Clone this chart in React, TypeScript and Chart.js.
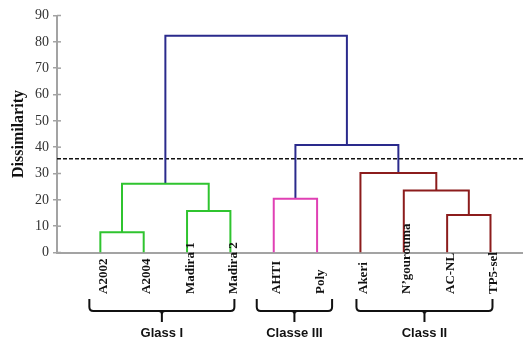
import React, { useEffect, useRef } from "react";
import { Chart, registerables } from "chart.js";

Chart.register(...registerables);

// Leaves of the dendrogram, left to right
const leaves = ["A2002", "A2004", "Madira 1", "Madira 2", "AHTI", "Poly", "Akeri", "N’gourouma", "AC-NL", "TP5-sel"];

// Agglomeration steps: node ids 0..9 are leaves, each merge creates node 10, 11, ...
const mergeLeft = [0, 2, 10, 4, 8, 7, 6, 13, 12];
const mergeRight = [1, 3, 11, 5, 9, 14, 15, 16, 17];
const mergeHeight = [7.7, 15.8, 26.1, 20.4, 14.2, 23.5, 30.2, 40.8, 82.3];
const mergeGroup = ["I", "I", "I", "III", "II", "II", "II", "root", "root"];

// Truncation level
const cutoff = 35.6;

// Y axis
const yMin = 0;
const yMax = 90;
const yStep = 10;
const yTitle = "Dissimilarity";

// Class brackets under the leaves
const groupLabels = ["Glass I", "Classe III", "Class II"];
const groupFirst = [0, 4, 6];
const groupLast = [3, 5, 9];

const groupColors: Record<string, string> = {
  I: "#2fc42f",
  III: "#e040b4",
  II: "#8c1c1c",
  root: "#2a2a8c",
};

const SERIF = '"Liberation Serif", "Times New Roman", serif';
const SANS = '"Liberation Sans", Arial, sans-serif';
const AXIS_GREY = "#a3a3a3";
const X_MAX = 10.75;

function buildTree() {
  const nx: number[] = leaves.map((_, i) => i + 1);
  const ny: number[] = leaves.map(() => 0);
  const links: { pts: { x: number; y: number }[]; color: string }[] = [];
  mergeLeft.forEach((l, k) => {
    const r = mergeRight[k];
    const h = mergeHeight[k];
    links.push({
      pts: [
        { x: nx[l], y: ny[l] },
        { x: nx[l], y: h },
        { x: nx[r], y: h },
        { x: nx[r], y: ny[r] },
      ],
      color: groupColors[mergeGroup[k]],
    });
    nx.push((nx[l] + nx[r]) / 2);
    ny.push(h);
  });
  return links;
}

// Bracket overhang (px) on each side of every class
const bracketPad = [
  [11, 4],
  [17, 15],
  [4, 2],
];

const annotations = {
  id: "dendroAnnotations",
  afterDraw(chart: any) {
    const { ctx, chartArea, scales } = chart;
    const xs = scales.x;
    const ys = scales.y;
    ctx.save();

    // inner halves of the y tick marks
    ctx.strokeStyle = AXIS_GREY;
    ctx.lineWidth = 1.5;
    for (let v = yMin; v <= yMax; v += yStep) {
      const py = ys.getPixelForValue(v);
      ctx.beginPath();
      ctx.moveTo(chartArea.left, py);
      ctx.lineTo(chartArea.left + 4, py);
      ctx.stroke();
    }

    // y axis title
    ctx.save();
    ctx.translate(19, (ys.getPixelForValue(yMin) + ys.getPixelForValue(yMax)) / 2);
    ctx.rotate(-Math.PI / 2);
    ctx.fillStyle = "#111";
    ctx.font = `bold 16px ${SERIF}`;
    ctx.textAlign = "center";
    ctx.textBaseline = "middle";
    ctx.fillText(yTitle, 0, 0);
    ctx.restore();

    // leaf labels, reading upward
    ctx.fillStyle = "#111";
    ctx.font = `bold 13px ${SERIF}`;
    leaves.forEach((name, i) => {
      const px = xs.getPixelForValue(i + 1);
      ctx.save();
      ctx.translate(px + 6.5, 294);
      ctx.rotate(-Math.PI / 2);
      ctx.textAlign = "left";
      ctx.textBaseline = "alphabetic";
      ctx.fillText(name, 0, 0);
      ctx.restore();
    });

    // class brackets
    ctx.strokeStyle = "#111";
    ctx.lineWidth = 2;
    ctx.lineJoin = "round";
    const top = 299;
    const hy = 311;
    const bottom = 322;
    const r = 4;
    groupLabels.forEach((label, g) => {
      const x0 = xs.getPixelForValue(groupFirst[g] + 1) - bracketPad[g][0];
      const x1 = xs.getPixelForValue(groupLast[g] + 1) + bracketPad[g][1];
      const cx = (x0 + x1) / 2;
      ctx.beginPath();
      ctx.moveTo(x0, top);
      ctx.lineTo(x0, hy - r);
      ctx.quadraticCurveTo(x0, hy, x0 + r, hy);
      ctx.lineTo(x1 - r, hy);
      ctx.quadraticCurveTo(x1, hy, x1, hy - r);
      ctx.lineTo(x1, top);
      ctx.stroke();
      ctx.beginPath();
      ctx.moveTo(cx - 3, hy);
      ctx.quadraticCurveTo(cx, hy, cx, hy + 3);
      ctx.lineTo(cx, bottom);
      ctx.moveTo(cx + 3, hy);
      ctx.quadraticCurveTo(cx, hy, cx, hy + 3);
      ctx.stroke();

      ctx.fillStyle = "#111";
      ctx.font = `bold 13px ${SANS}`;
      ctx.textAlign = "center";
      ctx.textBaseline = "middle";
      ctx.fillText(label, cx, 333);
    });

    ctx.restore();
  },
};

export default function App() {
  const canvasRef = useRef<HTMLCanvasElement | null>(null);

  useEffect(() => {
    if (!canvasRef.current) return;
    const links = buildTree();
    const datasets: any[] = links.map((lk) => ({
      data: lk.pts,
      borderColor: lk.color,
      borderWidth: 2,
      pointRadius: 0,
      showLine: true,
      fill: false,
      tension: 0,
    }));
    datasets.push({
      data: [
        { x: 0, y: cutoff },
        { x: X_MAX, y: cutoff },
      ],
      borderColor: "#111",
      borderWidth: 1.6,
      borderDash: [4, 2],
      pointRadius: 0,
      showLine: true,
      fill: false,
    });

    const chart = new Chart(canvasRef.current, {
      type: "scatter",
      data: { datasets },
      options: {
        animation: false,
        responsive: false,
        layout: { padding: { top: 15.5, right: 0, bottom: 0, left: 0 } },
        plugins: {
          legend: { display: false },
          tooltip: { enabled: false },
        },
        scales: {
          x: {
            type: "linear",
            min: 0,
            max: X_MAX,
            ticks: { display: false },
            grid: { drawOnChartArea: false, drawTicks: false },
            border: { color: AXIS_GREY, width: 2 },
            afterFit: (s: any) => {
              s.height = 88.5;
            },
          },
          y: {
            type: "linear",
            min: yMin,
            max: yMax,
            ticks: {
              stepSize: yStep,
              padding: 4,
              color: "#333",
              font: { family: SERIF, size: 14 },
            },
            grid: {
              drawOnChartArea: false,
              drawTicks: true,
              tickLength: 4,
              color: AXIS_GREY,
              lineWidth: 1.5,
            },
            border: { color: AXIS_GREY, width: 2 },
            afterFit: (s: any) => {
              s.width = 57;
            },
          },
        },
      } as any,
      plugins: [annotations],
    });
    return () => chart.destroy();
  }, []);

  return (
    <div style={{ position: "fixed", left: 0, top: 0, width: 523, height: 341, background: "#fff" }}>
      <canvas ref={canvasRef} width={523} height={341} />
    </div>
  );
}
